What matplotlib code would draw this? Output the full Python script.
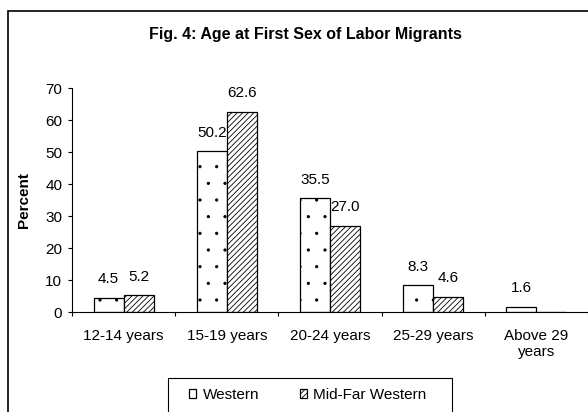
import matplotlib
matplotlib.use('Agg')
import matplotlib.pyplot as plt
import matplotlib.hatch
import numpy as np
from matplotlib.patches import Rectangle

plt.rcParams['font.family'] = 'Liberation Sans'
plt.rcParams['hatch.linewidth'] = 0.6
# smaller dots for the dotted fill
matplotlib.hatch.SmallFilledCircles.size = 0.07

# Data
categories = ['12-14 years', '15-19 years', '20-24 years', '25-29 years', 'Above 29\nyears']
western = [4.5, 50.2, 35.5, 8.3, 1.6]
mid_far_western = [5.2, 62.6, 27.0, 4.6, None]

fig = plt.figure(figsize=(5.88, 4.12), dpi=100)
ax = fig.add_axes([72 / 588, 1 - 312 / 412, 516 / 588, 224 / 412])

x = np.arange(len(categories))
w = 0.29

mf_vals = [v if v is not None else 0 for v in mid_far_western]
b1 = ax.bar(x - w / 2, western, w, color='white', edgecolor='black', linewidth=0.9,
            hatch='.', label='Western')
b2 = ax.bar(x + w / 2, mf_vals, w, color='white', edgecolor='black', linewidth=0.9,
            hatch='//////', label='Mid-Far Western')

for xi, v in zip(x - w / 2, western):
    ax.annotate(f'{v:.1f}', (xi, v), xytext=(0, 8.5), textcoords='offset points',
                ha='center', va='bottom', fontsize=11)
for xi, v in zip(x + w / 2, mid_far_western):
    if v is None:
        continue
    ax.annotate(f'{v:.1f}', (xi, v), xytext=(0, 8.5), textcoords='offset points',
                ha='center', va='bottom', fontsize=11)

ax.set_xlim(-0.5, len(categories) - 0.5)
ax.set_ylim(0, 70)
ax.set_yticks(range(0, 71, 10))
ax.tick_params(axis='y', labelsize=11, length=3, width=0.8, direction='out', pad=4)

# ticks between categories, labels at centers
ax.set_xticks(np.arange(-0.5, len(categories), 1.0))
ax.set_xticklabels([])
ax.tick_params(axis='x', which='major', length=3, width=0.8, direction='out')
ax.set_xticks(x, minor=True)
ax.set_xticklabels(categories, minor=True, fontsize=11)
ax.tick_params(axis='x', which='minor', length=0, pad=12)

ax.spines['top'].set_visible(False)
ax.spines['right'].set_visible(False)
ax.spines['left'].set_linewidth(0.8)
ax.spines['bottom'].set_linewidth(0.8)

ax.set_ylabel('Percent', fontsize=11, fontweight='bold', labelpad=10)

fig.text(305 / 588, 1 - 35 / 412, 'Fig. 4: Age at First Sex of Labor Migrants',
         ha='center', va='center', fontsize=11.5, fontweight='bold')

leg = fig.legend(handles=[b1, b2], loc='upper center', ncol=2,
                 bbox_to_anchor=(308 / 588, 1 - 381 / 412),
                 fontsize=11, frameon=False,
                 handlelength=0.46, handleheight=0.46, handletextpad=0.4,
                 borderpad=0.45, columnspacing=2.7, borderaxespad=0)

# legend frame (bottom cut off like the reference)
fig.patches.append(Rectangle((168 / 588, -0.1), 284 / 588, 0.1 + 1 - 378 / 412,
                             transform=fig.transFigure, fill=False,
                             edgecolor='black', linewidth=0.8))

# outer chart border (right and bottom cut off)
fig.patches.append(Rectangle((8 / 588, -0.1), 1.2, 1 - 11 / 412 + 0.1,
                             transform=fig.transFigure, fill=False,
                             edgecolor='black', linewidth=1.2))

fig.savefig('out.png', dpi=100)
